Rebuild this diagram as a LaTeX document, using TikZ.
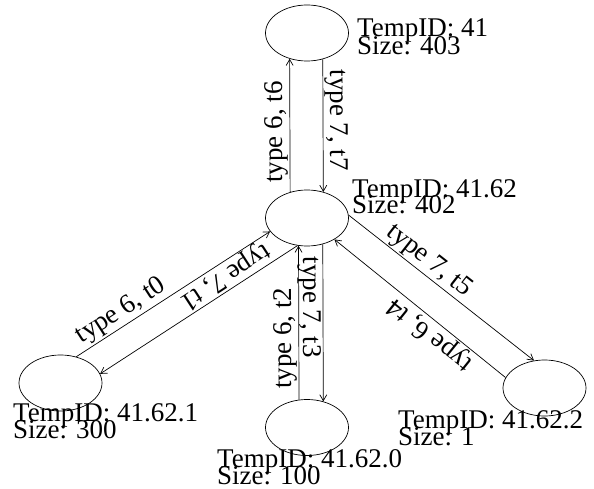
\documentclass[tikz,border=0pt]{standalone}
\usepackage{fontspec}
\setmainfont{Liberation Serif}
\usetikzlibrary{arrows.meta,shapes.geometric}
\begin{document}
\begin{tikzpicture}[x=1pt,y=-1pt,
  state/.style={draw, ellipse, minimum width=83pt, minimum height=56pt, inner sep=0pt, line width=0.7pt},
  txt/.style={font=\fontsize{27}{27}\selectfont, inner sep=0pt, anchor=base west},
  edge/.style={line width=0.7pt, -{Straight Barb[length=6pt,width=7pt]}},
  elab/.style={font=\fontsize{27}{27}\selectfont, inner sep=1.5pt, sloped, allow upside down}]
\useasboundingbox (0,0) rectangle (594,489);

% states
\node[state] (n41)    at (307,33)    {};
\node[state] (n4162)  at (307,218)   {};
\node[state] (n41621) at (60.5,383)  {};
\node[state] (n41620) at (307,427.5) {};
\node[state] (n41622) at (544.5,388) {};

% state labels
\node[txt] (l41a)    at (357,37)  {TempID: 41};
\node[txt] (l41b)    at (357,55)  {Size: 403};
\node[txt] (l4162a)  at (352,197) {TempID: 41.62};
\node[txt] (l4162b)  at (352,214) {Size: 402};
\node[txt] (l41621a) at (13,421)  {TempID: 41.62.1};
\node[txt] (l41621b) at (13,438)  {Size: 300};
\node[txt] (l41620a) at (217,467) {TempID: 41.62.0};
\node[txt] (l41620b) at (217,484) {Size: 100};
\node[txt] (l41622a) at (398,428) {TempID: 41.62.2};
\node[txt] (l41622b) at (398,445) {Size: 1};

% edges
\draw[edge] (n4162.123.7) -- node[elab, pos=0.45, above] {type 6, t6} (n41.236.3);
\draw[edge] (n41.301.8) -- node[elab, pos=0.46, above] {type 7, t7} (n4162.58.2);
\draw[edge] (n41621.59) -- node[elab, pos=0.27, above] {type 6, t0} (n4162.200);
\draw[edge] (n4162.251.6) -- node[elab, pos=0.33, below] {type 7, t1} (n41621.13);
\draw[edge] (n41620.106.2) -- node[elab, pos=0.40, above] {type 6, t2} (n4162.253.8);
\draw[edge] (n4162.301.8) -- node[elab, pos=0.40, below] {type 7, t3} (n41620.58.2);
\draw[edge] (n41622.165) -- node[elab, pos=0.39, above] {type 6, t4} (n4162.322.4);
\draw[edge] (n4162.4) -- node[elab, pos=0.39, above] {type 7, t5} (n41622.111.6);
\end{tikzpicture}
\end{document}
